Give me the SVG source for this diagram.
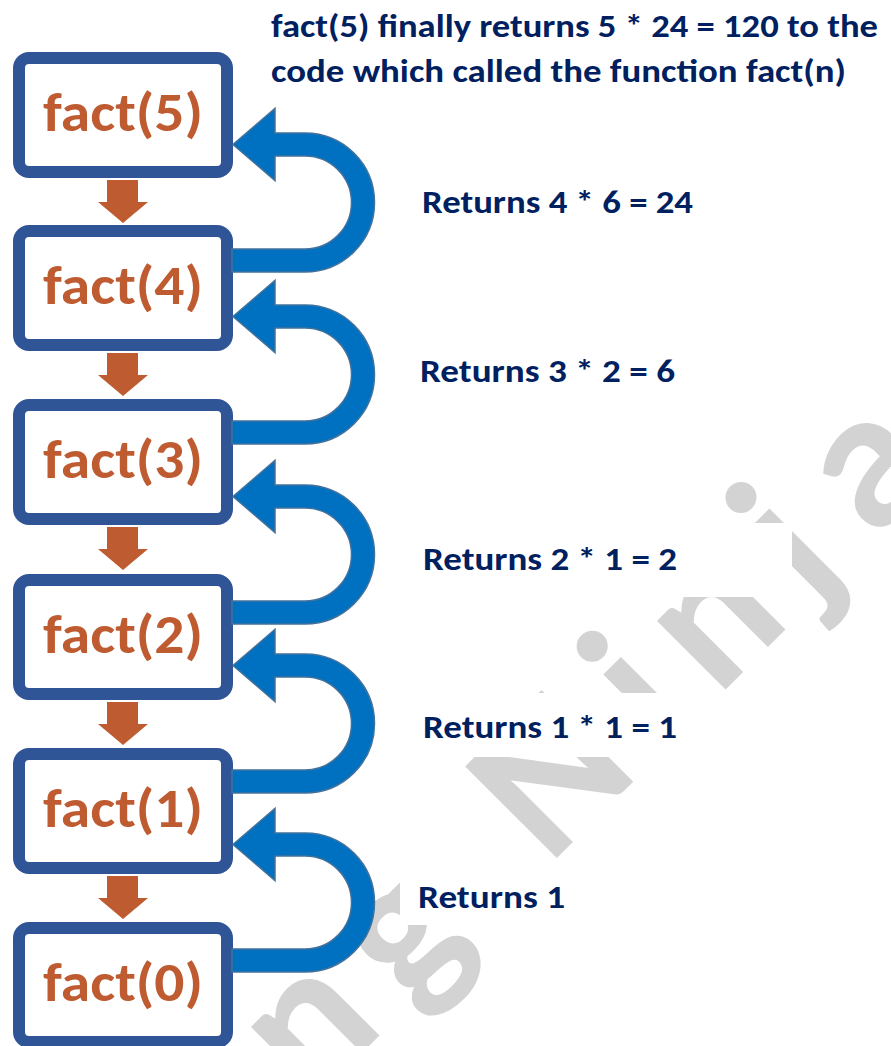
<svg xmlns="http://www.w3.org/2000/svg" xmlns:xlink="http://www.w3.org/1999/xlink" width="891" height="1046" viewBox="0 0 891 1046">
<style>
.wm{font-family:Carlito,"Open Sans","Noto Sans",sans-serif;font-weight:700;font-size:200px;fill:#D3D3D3;text-anchor:middle}
.lbl{font-family:Carlito,"Open Sans","Noto Sans",sans-serif;font-weight:700;font-size:32px;fill:#002060}
.box{fill:#FFFFFF;stroke:#2F5597;stroke-width:12}
.ft{font-family:Carlito,"Open Sans","Noto Sans",sans-serif;font-weight:700;font-size:54px;fill:#BF5B30;text-anchor:middle}
.down{fill:#BF5B30}
.ret{fill:#0070C0;stroke:#41719C;stroke-width:1.5}
.bg{fill:#FFFFFF}
</style>
<defs>
<polygon id="downArrow" points="107,0 138,0 138,22 148,22 123,43 98,22 107,22"/>
<path id="uturn" d="M232 116 L305 116 A46.5 46.5 0 0 0 305 23 L275 23 L275 47.5 L233 11.5 L275 -24.5 L275 0 L305 0 A69.5 69.5 0 0 1 305 139 L232 139 Z"/>
</defs>
<rect width="891" height="1046" fill="#FFFFFF"/>
<g id="watermark">
<text class="wm" transform="translate(707.5 707.5) rotate(-45)" x="-997 -860 -723 -615 -507 -376 -267 -159 -38 67 172 285 404" y="0">Coding Ninjas</text>
</g>
<g id="labels">
<rect class="bg" x="410" y="523" width="382" height="74"/>
<rect class="bg" x="410" y="693" width="360" height="64"/>
<rect class="bg" x="400" y="858" width="175" height="67"/>
<g id="title">
<text class="lbl" x="271" y="37" textLength="607" lengthAdjust="spacingAndGlyphs">fact(5) finally returns 5 * 24 = 120 to the</text>
<text class="lbl" x="271" y="82" textLength="575" lengthAdjust="spacingAndGlyphs">code which called the function fact(n)</text>
</g>
<text id="ret4" class="lbl" x="422" y="213" textLength="271" lengthAdjust="spacingAndGlyphs">Returns 4 * 6 = 24</text>
<text id="ret3" class="lbl" x="420" y="382" textLength="255" lengthAdjust="spacingAndGlyphs">Returns 3 * 2 = 6</text>
<text id="ret2" class="lbl" x="423" y="570" textLength="254" lengthAdjust="spacingAndGlyphs">Returns 2 * 1 = 2</text>
<text id="ret1" class="lbl" x="423" y="738" textLength="254" lengthAdjust="spacingAndGlyphs">Returns 1 * 1 = 1</text>
<text id="ret0" class="lbl" x="418" y="908" textLength="147" lengthAdjust="spacingAndGlyphs">Returns 1</text>
</g>
<g id="fact5"><rect class="box" x="19" y="58" width="208" height="114" rx="10"/><text class="ft" x="123" y="131" textLength="160" lengthAdjust="spacingAndGlyphs">fact(5)</text></g>
<g id="fact4"><rect class="box" x="19" y="231" width="208" height="114" rx="10"/><text class="ft" x="123" y="304" textLength="160" lengthAdjust="spacingAndGlyphs">fact(4)</text></g>
<g id="fact3"><rect class="box" x="19" y="405" width="208" height="114" rx="10"/><text class="ft" x="123" y="478" textLength="160" lengthAdjust="spacingAndGlyphs">fact(3)</text></g>
<g id="fact2"><rect class="box" x="19" y="580" width="208" height="114" rx="10"/><text class="ft" x="123" y="653" textLength="160" lengthAdjust="spacingAndGlyphs">fact(2)</text></g>
<g id="fact1"><rect class="box" x="19" y="754" width="208" height="114" rx="10"/><text class="ft" x="123" y="827" textLength="160" lengthAdjust="spacingAndGlyphs">fact(1)</text></g>
<g id="fact0"><rect class="box" x="19" y="928" width="208" height="114" rx="10"/><text class="ft" x="123" y="1001" textLength="160" lengthAdjust="spacingAndGlyphs">fact(0)</text></g>
<g id="connectors">
<use xlink:href="#downArrow" href="#downArrow" class="down" y="180"/>
<use xlink:href="#downArrow" href="#downArrow" class="down" y="353"/>
<use xlink:href="#downArrow" href="#downArrow" class="down" y="527"/>
<use xlink:href="#downArrow" href="#downArrow" class="down" y="702"/>
<use xlink:href="#downArrow" href="#downArrow" class="down" y="876"/>
<use xlink:href="#uturn" href="#uturn" class="ret" y="133"/>
<use xlink:href="#uturn" href="#uturn" class="ret" y="305"/>
<use xlink:href="#uturn" href="#uturn" class="ret" y="485"/>
<use xlink:href="#uturn" href="#uturn" class="ret" y="654"/>
<use xlink:href="#uturn" href="#uturn" class="ret" y="833"/>
</g>
</svg>
